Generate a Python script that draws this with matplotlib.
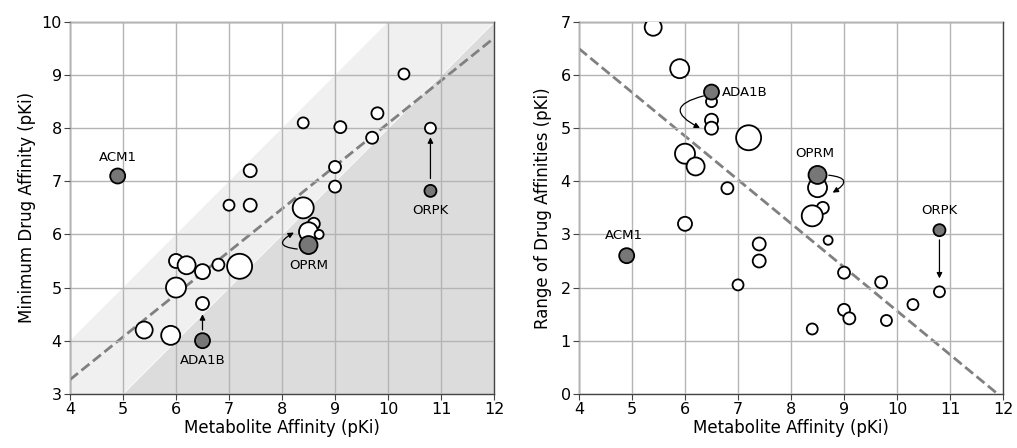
import numpy as np
import matplotlib
matplotlib.use("Agg")
import matplotlib.pyplot as plt

# left panel: metabolite affinity vs minimum drug affinity
min_x = [5.4, 5.9, 6.0, 6.0, 6.2, 6.5, 6.5, 6.8, 7.2, 7.0, 7.4, 7.4, 8.4, 8.4,
         8.6, 8.5, 8.7, 9.0, 9.0, 9.1, 9.7, 9.8, 10.3, 10.8]
min_y = [4.2, 4.1, 5.5, 5.0, 5.42, 5.3, 4.7, 5.43, 5.4, 6.55, 7.2, 6.55, 8.1, 6.5,
         6.2, 6.05, 6.0, 7.27, 6.9, 8.02, 7.82, 8.28, 9.02, 8.0]
min_d = [17, 19, 14, 20, 18, 15, 13, 12, 25, 11, 13, 13, 11, 21,
         12, 19, 9, 12, 12, 12, 12, 12, 11, 11]

# right panel: metabolite affinity vs range of drug affinities
rng_x = [5.4, 5.9, 6.5, 6.5, 6.5, 7.2, 6.0, 6.2, 6.8, 6.0, 7.4, 7.4, 7.0, 8.5,
         8.6, 8.4, 8.7, 9.0, 9.7, 9.0, 9.1, 8.4, 9.8, 10.3, 10.8]
rng_y = [6.9, 6.12, 5.5, 5.15, 5.0, 4.82, 4.52, 4.28, 3.87, 3.2, 2.82, 2.5, 2.05, 3.88,
         3.5, 3.35, 2.89, 2.28, 2.1, 1.58, 1.42, 1.22, 1.38, 1.68, 1.92]
rng_d = [17, 19, 11, 13, 13, 25, 20, 18, 12, 14, 13, 13, 11, 19,
         12, 21, 9, 12, 12, 12, 12, 11, 11, 11, 11]

# highlighted receptors
hl_names = ["ACM1", "ADA1B", "OPRM", "ORPK"]
hl_x = [4.9, 6.5, 8.5, 10.8]
hl_min = [7.1, 4.0, 5.8, 6.82]
hl_rng = [2.6, 5.68, 4.12, 3.08]
hl_d = [15, 15, 18, 12]

# regression lines (slope, intercept)
fit_min = (0.804, 0.05)
fit_rng = (-0.823, 9.79)


def sz(d):
    return (np.array(d) * 0.72) ** 2


fig = plt.figure(figsize=(10.17, 4.48), dpi=100)
ax1 = fig.add_axes([0.0688, 0.121, 0.417, 0.830])
ax2 = fig.add_axes([0.5693, 0.121, 0.417, 0.830])

for ax in (ax1, ax2):
    ax.set_xlim(4, 12)
    ax.set_xticks(range(4, 13))
    ax.grid(True, color="#b4b4b4", linewidth=1.0, zorder=1)
    ax.set_axisbelow(False)
    for s in ax.spines.values():
        s.set_color("#444444")
        s.set_linewidth(1.0)
    ax.tick_params(labelsize=11.5, color="#444444", length=4, pad=2)
    ax.set_xlabel("Metabolite Affinity (pKi)", fontsize=12, labelpad=1)

# LEFT PANEL
ax1.set_ylim(3, 10)
ax1.set_yticks(range(3, 11))
xx = np.array([4, 12])
ax1.fill_between(xx, xx - 2, xx, color="#f0f0f0", zorder=0, linewidth=0)
ax1.fill_between(xx, 3, xx - 2, color="#dcdcdc", zorder=0, linewidth=0)
ax1.plot(xx, fit_min[0] * xx + fit_min[1], "--", color="#808080", lw=2, zorder=2)
ax1.scatter(min_x, min_y, s=sz(min_d), facecolor="white", edgecolor="black",
            linewidth=1.3, zorder=3)
ax1.scatter(hl_x, hl_min, s=sz(hl_d), facecolor="#777777", edgecolor="black",
            linewidth=1.3, zorder=4)
ax1.set_ylabel("Minimum Drug Affinity (pKi)", fontsize=12, labelpad=4)

fs = 9.5
ax1.text(4.9, 7.33, hl_names[0], ha="center", va="bottom", fontsize=fs)
ax1.text(6.5, 3.74, hl_names[1], ha="center", va="top", fontsize=fs)
ax1.text(8.5, 5.54, hl_names[2], ha="center", va="top", fontsize=fs)
ax1.text(10.8, 6.57, hl_names[3], ha="center", va="top", fontsize=fs)

arw = dict(arrowstyle="-|>", color="black", lw=0.9, mutation_scale=8)
ax1.annotate("", xy=(6.5, 4.55), xytext=(6.5, 4.15), arrowprops=arw, zorder=5)
ax1.annotate("", xy=(10.8, 7.88), xytext=(10.8, 7.0), arrowprops=arw, zorder=5)
ax1.annotate("", xy=(8.27, 6.06), xytext=(8.34, 5.72),
             arrowprops=dict(arw, connectionstyle="arc3,rad=-1.7"), zorder=5)

# RIGHT PANEL
ax2.set_ylim(0, 7)
ax2.set_yticks(range(0, 8))
xr = np.array([4, 12])
ax2.plot(xr, fit_rng[0] * xr + fit_rng[1], "--", color="#808080", lw=2, zorder=2)
ax2.scatter(rng_x, rng_y, s=sz(rng_d), facecolor="white", edgecolor="black",
            linewidth=1.3, zorder=3)
ax2.scatter(hl_x, hl_rng, s=sz(hl_d), facecolor="#777777", edgecolor="black",
            linewidth=1.3, zorder=4)
ax2.set_ylabel("Range of Drug Affinities (pKi)", fontsize=12, labelpad=6)

ax2.text(6.7, 5.68, hl_names[1], ha="left", va="center", fontsize=fs)
ax2.text(8.45, 4.4, hl_names[2], ha="center", va="bottom", fontsize=fs)
ax2.text(4.85, 2.86, hl_names[0], ha="center", va="bottom", fontsize=fs)
ax2.text(10.8, 3.33, hl_names[3], ha="center", va="bottom", fontsize=fs)

ax2.annotate("", xy=(6.33, 4.98), xytext=(6.4, 5.62),
             arrowprops=dict(arw, connectionstyle="arc3,rad=1.4"), zorder=5)
ax2.annotate("", xy=(8.74, 3.76), xytext=(8.66, 4.12),
             arrowprops=dict(arw, connectionstyle="arc3,rad=-1.6"), zorder=5)
ax2.annotate("", xy=(10.8, 2.12), xytext=(10.8, 2.95), arrowprops=arw, zorder=5)

fig.savefig("out.png", dpi=100)
